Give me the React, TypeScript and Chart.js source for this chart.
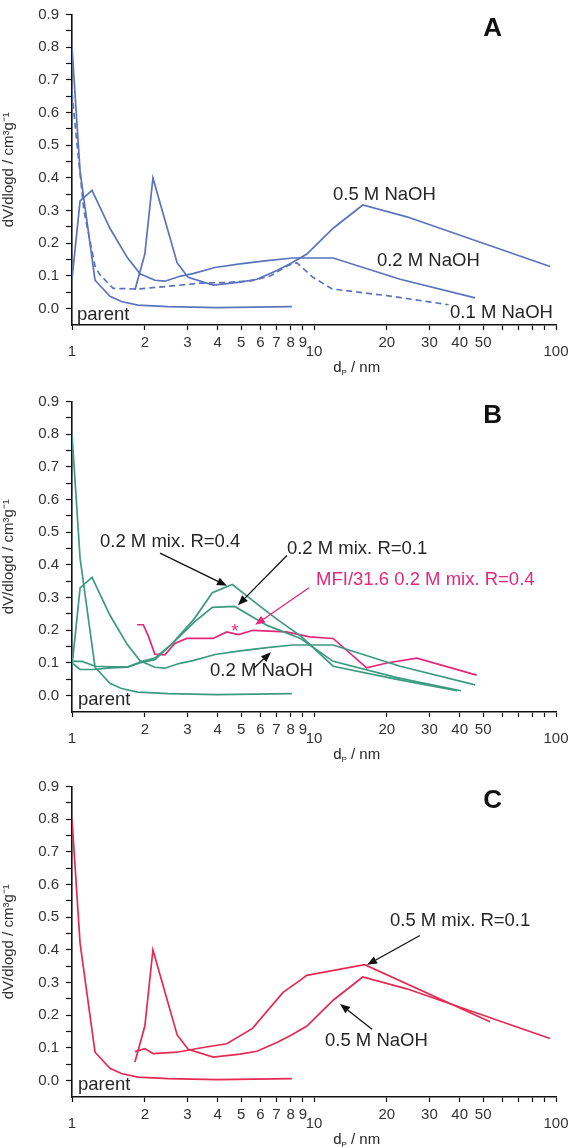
import React, { useEffect, useRef } from 'react';
import { Chart, registerables } from 'chart.js';

Chart.register(...registerables);

const FAMILY = '"Liberation Sans", Arial, Helvetica, sans-serif';

// ---------- axes ----------
const X_TICKS = [1, 2, 3, 4, 5, 6, 7, 8, 9, 10, 20, 30, 40, 50, 60, 70, 80, 90, 100];
const X_LABELED = [1, 2, 3, 4, 5, 6, 7, 8, 9, 10, 20, 30, 40, 50, 100];
const X_DECADES = [1, 10, 100];
const Y_TICKS = [-0.05, 0, 0.05, 0.1, 0.15, 0.2, 0.25, 0.3, 0.35, 0.4, 0.45, 0.5, 0.55, 0.6, 0.65, 0.7, 0.75, 0.8, 0.85, 0.9];
const Y_LABELED = [0, 0.1, 0.2, 0.3, 0.4, 0.5, 0.6, 0.7, 0.8, 0.9];
const Y_TITLE = 'dV/dlogd / cm³g⁻¹';

// ---------- series (d in nm, dV/dlogd) ----------
const parentD = [1, 1.08, 1.245, 1.435, 1.6, 1.87, 2.5, 3.97, 8.1];
const parentV = [0.8, 0.42, 0.087, 0.038, 0.022, 0.011, 0.006, 0.003, 0.006];

const naoh01D = [1, 1.05, 1.12, 1.245, 1.3, 1.48, 1.86, 2.47, 3.38, 4.3, 5.5, 6.6, 7.8, 8.5, 9.9, 11.9, 20, 36];
const naoh01V = [0.66, 0.5, 0.3, 0.13, 0.105, 0.062, 0.06, 0.068, 0.078, 0.08, 0.085, 0.1, 0.132, 0.14, 0.096, 0.06, 0.04, 0.012];

const naoh02D = [1, 1.08, 1.21, 1.435, 1.69, 1.91, 2.2, 2.42, 2.79, 3.16, 3.9, 4.95, 6.4, 8.2, 12, 22.7, 46.3];
const naoh02V = [0.09, 0.33, 0.362, 0.246, 0.157, 0.107, 0.087, 0.084, 0.099, 0.107, 0.126, 0.137, 0.147, 0.155, 0.155, 0.09, 0.033];

const naoh05D = [1.82, 2.0, 2.16, 2.72, 3.02, 3.83, 4.95, 5.81, 7.03, 8.0, 9.35, 12, 15.9, 24.2, 94.5];
const naoh05V = [0.057, 0.167, 0.4, 0.14, 0.096, 0.072, 0.081, 0.09, 0.117, 0.138, 0.167, 0.246, 0.317, 0.281, 0.129];

const mix02R04D = [1, 1.08, 1.22, 1.45, 1.7, 1.9, 2.2, 2.6, 3.2, 3.8, 4.6, 5.6, 7.0, 8.9, 12, 22, 39];
const mix02R04V = [0.1, 0.08, 0.08, 0.085, 0.087, 0.1, 0.11, 0.16, 0.235, 0.315, 0.34, 0.29, 0.235, 0.18, 0.09, 0.05, 0.015];

const mix02R01D = [1, 1.1, 1.25, 1.45, 1.7, 1.95, 2.2, 2.6, 3.2, 3.8, 4.7, 6.4, 8.8, 12, 22, 40.5];
const mix02R01V = [0.105, 0.105, 0.09, 0.088, 0.088, 0.105, 0.115, 0.16, 0.225, 0.27, 0.273, 0.215, 0.175, 0.105, 0.055, 0.015];

const mfiD = [1.86, 1.97, 2.06, 2.2, 2.42, 2.66, 2.98, 3.83, 4.36, 4.87, 5.6, 7.7, 9.6, 12, 16.5, 20, 26.6, 47];
const mfiV = [0.217, 0.217, 0.185, 0.127, 0.125, 0.16, 0.175, 0.175, 0.195, 0.187, 0.2, 0.195, 0.18, 0.175, 0.085, 0.1, 0.115, 0.063];

const mix05R01D = [1.82, 2.0, 2.16, 2.72, 3.38, 4.36, 5.57, 7.45, 8.75, 9.33, 16.2, 53.4];
const mix05R01V = [0.089, 0.098, 0.083, 0.087, 0.1, 0.113, 0.16, 0.27, 0.307, 0.322, 0.355, 0.18];

// ---------- colours ----------
const BLUE = '#5b73bd';
const GREEN = '#3b9a80';
const MAGENTA = '#e3287c';
const RED = '#e42a52';
const TEXT = '#262626';
const AXIS = '#111111';

// ---------- annotations (data coordinates) ----------
const PANEL_LETTER_AT = { x: 54.7, y: 0.857 };
const X_TITLE_START = 12;

const notesA = [
  { text: '0.5 M NaOH', x: 11.98, y: 0.347, color: TEXT },
  { text: '0.2 M NaOH', x: 18.2, y: 0.145, color: TEXT },
  { text: '0.1 M NaOH', x: 36.5, y: -0.014, color: TEXT },
  { text: 'parent', x: 1.049, y: -0.02, color: TEXT },
];
const notesB = [
  { text: '0.2 M mix. R=0.4', x: 1.305, y: 0.471, color: TEXT },
  { text: '0.2 M mix. R=0.1', x: 7.73, y: 0.45, color: TEXT },
  { text: 'MFI/31.6 0.2 M mix. R=0.4', x: 10.2, y: 0.3545, color: MAGENTA },
  { text: '0.2 M NaOH', x: 3.72, y: 0.076, color: TEXT },
  { text: 'parent', x: 1.059, y: -0.014, color: TEXT },
  { text: '*', x: 4.55, y: 0.196, color: MAGENTA },
];
const notesC = [
  { text: '0.5 M mix. R=0.1', x: 20.6, y: 0.489, color: TEXT },
  { text: '0.5 M NaOH', x: 11.1, y: 0.1208, color: TEXT },
  { text: 'parent', x: 1.059, y: -0.014, color: TEXT },
];

const arrowsB = [
  { x1: 2.31, y1: 0.436, x2: 4.37, y2: 0.336, color: AXIS },
  { x1: 7.73, y1: 0.429, x2: 4.85, y2: 0.2766, color: AXIS },
  { x1: 9.54, y1: 0.33, x2: 5.71, y2: 0.2166, color: MAGENTA },
  { x1: 5.6, y1: 0.0818, x2: 6.64, y2: 0.1328, color: AXIS },
];
const arrowsC = [
  { x1: 27.4, y1: 0.444, x2: 16.56, y2: 0.3545, color: AXIS },
  { x1: 17.37, y1: 0.157, x2: 12.81, y2: 0.2346, color: AXIS },
];

type Series = { d: number[]; v: number[]; color: string; dash?: number[] };
type Note = { text: string; x: number; y: number; color: string };
type Arrow = { x1: number; y1: number; x2: number; y2: number; color: string };
type PanelCfg = { letter: string; series: Series[]; notes: Note[]; arrows: Arrow[] };

const PANELS: { cfg: PanelCfg; top: number; height: number }[] = [
  {
    top: 0,
    height: 387,
    cfg: {
      letter: 'A',
      series: [
        { d: parentD, v: parentV, color: BLUE },
        { d: naoh01D, v: naoh01V, color: BLUE, dash: [6, 4] },
        { d: naoh02D, v: naoh02V, color: BLUE },
        { d: naoh05D, v: naoh05V, color: BLUE },
      ],
      notes: notesA,
      arrows: [],
    },
  },
  {
    top: 387,
    height: 385,
    cfg: {
      letter: 'B',
      series: [
        { d: parentD, v: parentV, color: GREEN },
        { d: naoh02D, v: naoh02V, color: GREEN },
        { d: mix02R04D, v: mix02R04V, color: GREEN },
        { d: mix02R01D, v: mix02R01V, color: GREEN },
        { d: mfiD, v: mfiV, color: MAGENTA },
      ],
      notes: notesB,
      arrows: arrowsB,
    },
  },
  {
    top: 772,
    height: 375,
    cfg: {
      letter: 'C',
      series: [
        { d: parentD, v: parentV, color: RED },
        { d: naoh05D, v: naoh05V, color: RED },
        { d: mix05R01D, v: mix05R01V, color: RED },
      ],
      notes: notesC,
      arrows: arrowsC,
    },
  },
];

const TOP_PAD = 8;
const AREA_H = 317;

function near(a: number, list: number[]) {
  return list.some((b) => Math.abs(a - b) < 1e-6);
}

function makeNotesPlugin(p: PanelCfg) {
  return {
    id: 'panelNotes',
    afterDraw(chart: any) {
      const { ctx, chartArea } = chart;
      const xs = chart.scales.x;
      const ys = chart.scales.y;
      ctx.save();
      // arrows
      for (const a of p.arrows) {
        const x1 = xs.getPixelForValue(a.x1);
        const y1 = ys.getPixelForValue(a.y1);
        const x2 = xs.getPixelForValue(a.x2);
        const y2 = ys.getPixelForValue(a.y2);
        const ang = Math.atan2(y2 - y1, x2 - x1);
        const hl = 10;
        const hw = 4;
        const bx = x2 - hl * Math.cos(ang);
        const by = y2 - hl * Math.sin(ang);
        ctx.strokeStyle = a.color;
        ctx.fillStyle = a.color;
        ctx.lineWidth = 1.3;
        ctx.beginPath();
        ctx.moveTo(x1, y1);
        ctx.lineTo(bx, by);
        ctx.stroke();
        ctx.beginPath();
        ctx.moveTo(x2, y2);
        ctx.lineTo(bx + hw * Math.sin(ang), by - hw * Math.cos(ang));
        ctx.lineTo(bx - hw * Math.sin(ang), by + hw * Math.cos(ang));
        ctx.closePath();
        ctx.fill();
      }
      // labels
      ctx.textBaseline = 'middle';
      ctx.textAlign = 'left';
      for (const n of p.notes) {
        ctx.font = `18.5px ${FAMILY}`;
        ctx.fillStyle = n.color;
        ctx.fillText(n.text, xs.getPixelForValue(n.x), ys.getPixelForValue(n.y));
      }
      // panel letter
      ctx.font = `bold 26px ${FAMILY}`;
      ctx.fillStyle = AXIS;
      ctx.textAlign = 'center';
      ctx.fillText(p.letter, xs.getPixelForValue(PANEL_LETTER_AT.x), ys.getPixelForValue(PANEL_LETTER_AT.y));
      // x axis title: d_P / nm
      ctx.textAlign = 'left';
      ctx.textBaseline = 'alphabetic';
      ctx.fillStyle = TEXT;
      let tx = xs.getPixelForValue(X_TITLE_START);
      const ty = chartArea.bottom + 47;
      ctx.font = `15px ${FAMILY}`;
      ctx.fillText('d', tx, ty);
      tx += ctx.measureText('d').width;
      ctx.font = `8px ${FAMILY}`;
      ctx.fillText('P', tx, ty + 3);
      tx += ctx.measureText('P').width;
      ctx.font = `15px ${FAMILY}`;
      ctx.fillText(' / nm', tx, ty);
      ctx.restore();
    },
  };
}

function Panel({ cfg, top, height }: { cfg: PanelCfg; top: number; height: number }) {
  const ref = useRef<HTMLCanvasElement>(null);
  useEffect(() => {
    const canvas = ref.current;
    if (!canvas) return;
    const chart = new Chart(canvas, {
      type: 'line',
      data: {
        datasets: cfg.series.map((s, i) => ({
          label: 's' + i,
          data: s.d.map((x, j) => ({ x, y: s.v[j] })),
          borderColor: s.color,
          backgroundColor: s.color,
          borderWidth: 1.7,
          borderDash: s.dash || [],
          pointRadius: 0,
          tension: 0,
          fill: false,
        })),
      },
      options: {
        animation: false,
        responsive: false,
        devicePixelRatio: 1,
        layout: { padding: { top: TOP_PAD, left: 0, right: 19, bottom: 0 } },
        plugins: {
          legend: { display: false },
          tooltip: { enabled: false },
        },
        scales: {
          x: {
            type: 'logarithmic',
            min: 1,
            max: 100,
            afterBuildTicks: (s: any) => {
              s.ticks = X_TICKS.map((v) => ({ value: v }));
            },
            afterFit: (s: any) => {
              s.height = height - TOP_PAD - AREA_H;
            },
            ticks: {
              autoSkip: false,
              maxRotation: 0,
              minRotation: 0,
              padding: 4,
              color: '#333',
              callback: (v: any) => {
                const n = Number(v);
                if (!near(n, X_LABELED)) return '';
                if (near(n, X_DECADES)) return ['', String(n)];
                return String(n);
              },
              font: (ctx: any) => {
                const v = ctx.tick ? ctx.tick.value : 0;
                if (near(v, X_DECADES)) return { family: FAMILY, size: 15, lineHeight: 0.78 };
                return { family: FAMILY, size: 15, lineHeight: 1.2 };
              },
            },
            grid: {
              drawOnChartArea: false,
              drawTicks: true,
              tickLength: 5,
              tickColor: AXIS,
              tickWidth: 1.2,
            },
            border: { display: true, color: AXIS, width: 1.6 },
          },
          y: {
            type: 'linear',
            min: -0.05,
            max: 0.9,
            afterBuildTicks: (s: any) => {
              s.ticks = Y_TICKS.map((v) => ({ value: v }));
            },
            afterFit: (s: any) => {
              s.width = 72;
            },
            ticks: {
              autoSkip: false,
              padding: 7,
              color: '#333',
              font: { family: FAMILY, size: 15, lineHeight: 1 },
              callback: (v: any) => {
                const n = Number(v);
                return near(n, Y_LABELED) ? n.toFixed(1) : '';
              },
            },
            grid: {
              drawOnChartArea: false,
              drawTicks: true,
              tickLength: 6,
              tickColor: (ctx: any) => (ctx.tick && ctx.tick.value < -0.01 ? 'rgba(0,0,0,0)' : AXIS),
              tickWidth: 1.2,
            },
            border: { display: true, color: AXIS, width: 1.6 },
            title: {
              display: true,
              text: Y_TITLE,
              color: '#333',
              font: { family: FAMILY, size: 15, lineHeight: 1.2 },
              padding: 0,
            },
          },
        },
      } as any,
      plugins: [makeNotesPlugin(cfg)],
    });
    return () => chart.destroy();
  }, [cfg, height]);
  return (
    <canvas
      ref={ref}
      width={575}
      height={height}
      style={{ position: 'absolute', left: 0, top, width: 575, height }}
    />
  );
}

export default function App() {
  return (
    <div style={{ position: 'absolute', left: 0, top: 0, width: 575, height: 1147, background: '#ffffff', overflow: 'hidden' }}>
      {PANELS.map((p) => (
        <Panel key={p.cfg.letter} cfg={p.cfg} top={p.top} height={p.height} />
      ))}
    </div>
  );
}
